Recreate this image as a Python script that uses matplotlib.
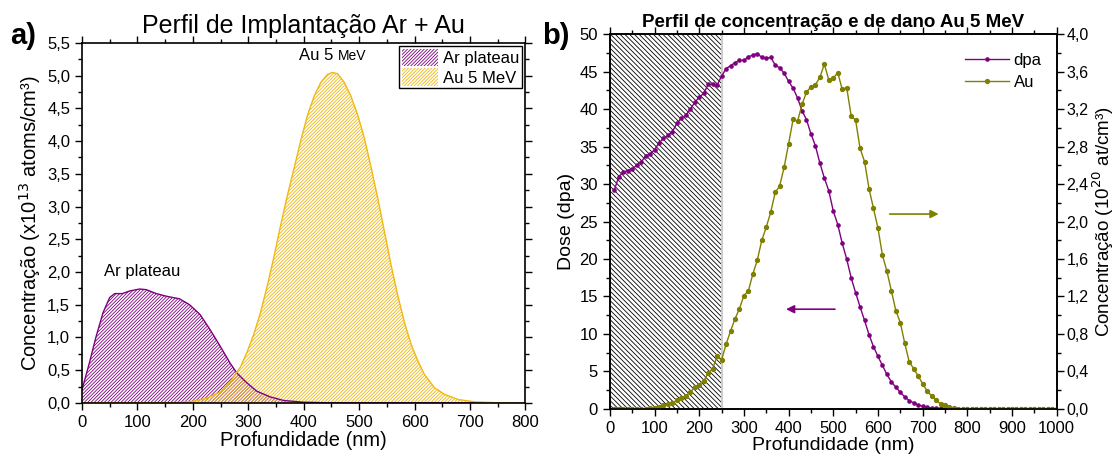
import matplotlib
matplotlib.use("Agg")
import matplotlib.pyplot as plt
from matplotlib.ticker import MultipleLocator, FuncFormatter

plt.rcParams["font.family"] = ["Liberation Sans", "DejaVu Sans"]
plt.rcParams["hatch.linewidth"] = 0.6

PURPLE = "#800080"
OLIVE = "#808000"
GOLD = "#F0B810"

# ---- panel a) implantation profiles ----
ar_depth = [0, 13, 25, 38, 50, 59, 73, 86, 104, 116, 134, 152, 176, 194, 213,
            231, 249, 267, 279, 297, 315, 340, 364, 400, 450, 800]
ar_conc = [0.2, 0.6, 1.0, 1.38, 1.61, 1.67, 1.67, 1.71, 1.74, 1.73, 1.67, 1.63,
           1.59, 1.50, 1.35, 1.12, 0.87, 0.61, 0.46, 0.31, 0.18, 0.09, 0.036,
           0.01, 0.0, 0.0]

au_depth = [0, 140, 170, 200, 225, 250, 268, 286, 298, 310, 322, 334, 346, 358,
            370, 383, 395, 407, 419, 431, 443, 452, 461, 473, 485, 497, 509,
            521, 534, 546, 558, 570, 582, 594, 606, 618, 636, 654, 679, 709,
            757, 800]
au_conc = [0.0, 0.0, 0.005, 0.025, 0.07, 0.17, 0.33, 0.55, 0.78, 1.05, 1.38,
           1.78, 2.22, 2.70, 3.15, 3.60, 4.02, 4.40, 4.69, 4.90, 5.02, 5.05,
           5.03, 4.90, 4.69, 4.41, 4.06, 3.62, 3.11, 2.60, 2.09, 1.63, 1.22,
           0.89, 0.64, 0.43, 0.23, 0.13, 0.05, 0.015, 0.0, 0.0]

# ---- panel b) concentration and damage, Au 5 MeV ----
depth_b = [10, 20, 30, 40, 50, 60, 70, 80, 90, 100,
           110, 120, 130, 140, 150, 160, 170, 180, 190, 200,
           210, 220, 230, 240, 250, 260, 270, 280, 290, 300,
           310, 320, 330, 340, 350, 360, 370, 380, 390, 400,
           410, 420, 430, 440, 450, 460, 470, 480, 490, 500,
           510, 520, 530, 540, 550, 560, 570, 580, 590, 600,
           610, 620, 630, 640, 650, 660, 670, 680, 690, 700,
           710, 720, 730, 740, 750, 760, 770, 780, 790, 800,
           810, 820, 830, 840, 850, 860, 870, 880, 890, 900,
           910, 920, 930, 940, 950, 960, 970, 980, 990, 1000]
dpa = [29.2, 31.0, 31.6, 31.8, 32.0, 32.5, 32.9, 33.8, 34.0, 34.6,
       35.5, 36.1, 36.5, 37.0, 38.1, 38.8, 39.2, 40.0, 40.9, 41.6,
       42.1, 43.3, 43.3, 43.2, 44.4, 45.4, 45.8, 46.2, 46.5, 46.5,
       47.0, 47.2, 47.4, 46.9, 46.8, 46.9, 45.9, 45.5, 44.8, 43.7,
       42.8, 41.5, 39.8, 38.6, 36.7, 35.1, 32.8, 30.8, 29.1, 26.4,
       24.6, 22.1, 20.0, 17.5, 15.5, 13.6, 11.8, 9.9, 8.3, 7.0,
       5.8, 4.6, 3.6, 2.9, 2.2, 1.6, 1.1, 0.8, 0.5, 0.36,
       0.2, 0.13, 0.1, 0.06, 0.03, 0.02, 0.01, 0.0, 0.0, 0.0,
       0.0, 0.0, 0.0, 0.0, 0.0, 0.0, 0.0, 0.0, 0.0, 0.0,
       0.0, 0.0, 0.0, 0.0, 0.0, 0.0, 0.0, 0.0, 0.0, 0.0]
au_b = [0.0, 0.0, 0.0, 0.0, 0.0, 0.0, 0.0, 0.003, 0.005, 0.01,
        0.025, 0.036, 0.047, 0.065, 0.09, 0.12, 0.14, 0.18, 0.23, 0.26,
        0.30, 0.38, 0.43, 0.56, 0.52, 0.69, 0.83, 0.96, 1.07, 1.21,
        1.26, 1.44, 1.59, 1.80, 1.94, 2.10, 2.31, 2.38, 2.58, 2.83,
        3.09, 3.07, 3.25, 3.38, 3.44, 3.46, 3.54, 3.68, 3.51, 3.53,
        3.59, 3.41, 3.43, 3.13, 3.08, 2.78, 2.64, 2.35, 2.14, 1.93,
        1.64, 1.47, 1.26, 1.05, 0.92, 0.70, 0.50, 0.43, 0.35, 0.27,
        0.19, 0.14, 0.09, 0.054, 0.036, 0.018, 0.007, 0.0, 0.0, 0.0,
        0.0, 0.0, 0.0, 0.0, 0.0, 0.0, 0.0, 0.0, 0.0, 0.0,
        0.0, 0.0, 0.0, 0.0, 0.0, 0.0, 0.0, 0.0, 0.0, 0.0]
shade_limit = 250


def comma(fmt):
    return FuncFormatter(lambda v, _: fmt.format(v).replace(".", ","))


def style_ticks(ax, size=12):
    ax.tick_params(which="both", direction="out", labelsize=size, width=1)
    ax.tick_params(which="major", length=5)
    ax.tick_params(which="minor", length=3)
    for s in ax.spines.values():
        s.set_linewidth(1.2)


fig = plt.figure(figsize=(11.17, 4.62), dpi=100)
ax1 = fig.add_axes([0.0734, 0.128, 0.397, 0.779])
ax2 = fig.add_axes([0.546, 0.115, 0.400, 0.811])

# ---------------- a) ----------------
ax1.fill_between(ar_depth, ar_conc, facecolor="none", edgecolor=PURPLE,
                 hatch="/" * 10, linewidth=0, label="Ar plateau")
ax1.plot(ar_depth, ar_conc, color=PURPLE, lw=1)
ax1.fill_between(au_depth, au_conc, facecolor="none", edgecolor=GOLD,
                 hatch="/" * 10, linewidth=0, label="Au 5 MeV")
ax1.plot(au_depth, au_conc, color=GOLD, lw=1)
ax1.set_xlim(0, 800)
ax1.set_ylim(0, 5.5)
ax1.xaxis.set_major_locator(MultipleLocator(100))
ax1.xaxis.set_minor_locator(MultipleLocator(50))
ax1.yaxis.set_major_locator(MultipleLocator(0.5))
ax1.yaxis.set_minor_locator(MultipleLocator(0.25))
ax1.yaxis.set_major_formatter(comma("{:.1f}"))
style_ticks(ax1)
ax1.tick_params(which="both", top=True, right=True)
ax1.set_xlabel("Profundidade (nm)", fontsize=14.5, labelpad=1)
ax1.set_ylabel("Concentração (x10$^{13}$ atoms/cm³)", fontsize=14.5,
               labelpad=3)
ax1.set_title("Perfil de Implantação Ar + Au", fontsize=18, pad=7)
ax1.text(40, 1.9, "Ar plateau", fontsize=12, ha="left", va="bottom")
t = ax1.text(462, 5.2, "Au 5 ", fontsize=12, ha="right", va="bottom")
ax1.annotate("MeV", xy=(1, 0), xycoords=t, fontsize=10, va="bottom")
leg = ax1.legend(loc="upper right", fontsize=12, frameon=True, fancybox=False,
                 edgecolor="black", framealpha=1, borderpad=0.15,
                 handlelength=2.2, handleheight=1.2, handletextpad=0.3,
                 labelspacing=0.15, borderaxespad=0.2)
leg.get_frame().set_linewidth(1)

# ---------------- b) ----------------
ax2.axvspan(0, shade_limit, facecolor="white", edgecolor="black",
            hatch="\\" * 7, linewidth=0, zorder=0)
ax2.axvline(shade_limit, color="#cccccc", lw=1.5, zorder=0.5)
ax2.axvline(1, color="#cccccc", lw=1.5, zorder=0.5)
l1, = ax2.plot(depth_b, dpa, color=PURPLE, lw=1, marker="o", ms=2.3,
               label="dpa")
ax2.set_xlim(0, 1000)
ax2.set_ylim(0, 50)
ax2.xaxis.set_major_locator(MultipleLocator(100))
ax2.xaxis.set_minor_locator(MultipleLocator(50))
ax2.yaxis.set_major_locator(MultipleLocator(5))
ax2.yaxis.set_minor_locator(MultipleLocator(2.5))
style_ticks(ax2)
ax2.tick_params(which="both", top=True)
ax2.set_xlabel("Profundidade (nm)", fontsize=14, labelpad=1)
ax2.set_ylabel("Dose (dpa)", fontsize=14, labelpad=3)
ax2.set_title("Perfil de concentração e de dano Au 5 MeV", fontsize=13.5,
              fontweight="bold", pad=5)
ax2.annotate("", xy=(388, 13.3), xytext=(510, 13.3),
             arrowprops=dict(arrowstyle="-|>", color=PURPLE, lw=1.2,
                             mutation_scale=12))

ax3 = ax2.twinx()
l2, = ax3.plot(depth_b, au_b, color=OLIVE, lw=1, marker="o", ms=2.8,
               label="Au")
ax3.set_ylim(0, 4)
ax3.yaxis.set_major_locator(MultipleLocator(0.4))
ax3.yaxis.set_minor_locator(MultipleLocator(0.2))
ax3.yaxis.set_major_formatter(comma("{:.1f}"))
style_ticks(ax3, size=11.5)
ax3.tick_params(axis="y", pad=2)
ax3.set_ylabel("Concentração (10$^{20}$ at/cm³)", fontsize=13.5, labelpad=1)
ax3.annotate("", xy=(742, 2.08), xytext=(620, 2.08),
             arrowprops=dict(arrowstyle="-|>", color=OLIVE, lw=1.2,
                             mutation_scale=12))
ax3.legend(handles=[l1, l2], loc="upper right", fontsize=12, frameon=False,
           handlelength=2.6, handletextpad=0.3, labelspacing=0.4,
           bbox_to_anchor=(1.0, 0.99), markerscale=1)

fig.text(0.009, 0.905, "a)", fontsize=21, fontweight="bold")
fig.text(0.485, 0.905, "b)", fontsize=21, fontweight="bold")

fig.savefig("out.png", dpi=100)
